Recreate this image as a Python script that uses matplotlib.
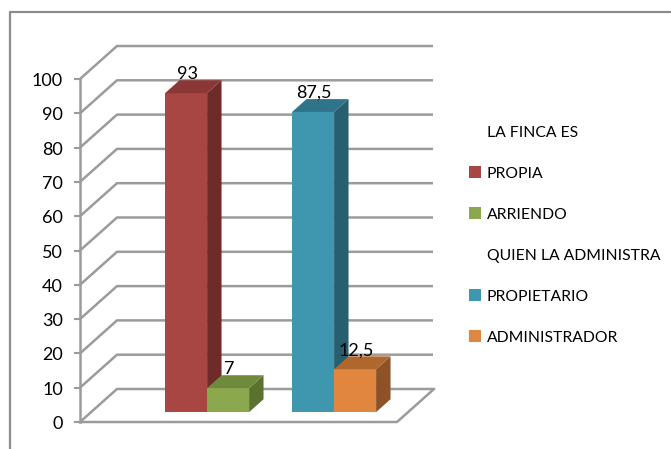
import matplotlib.pyplot as plt
from matplotlib.patches import Polygon, Rectangle

plt.rcParams['font.family'] = ['Lato', 'DejaVu Sans']

# datos
series = ['PROPIA', 'ARRIENDO', 'PROPIETARIO', 'ADMINISTRADOR']
values = [93, 7, 87.5, 12.5]
value_labels = ['93', '7', '87,5', '12,5']
group_of = [0, 0, 1, 1]
headers = ['LA FINCA ES', 'QUIEN LA ADMINISTRA']
y_ticks = list(range(0, 101, 10))

# colores: frente, techo, lado
front_colors = ['#a84644', '#8ba84e', '#3f97af', '#e0863e']
top_colors = ['#8a3735', '#6f8a3d', '#2f7488', '#b0672d']
side_colors = ['#6e2b2a', '#5a712f', '#275f6f', '#8d5226']
grid_color = '#9b9b9b'

# geometria de la vista 3d (pixeles)
X0, Y0 = 80, 422          # origen del eje frontal
SCALE = 3.43              # pixeles por unidad
WALL_DX, WALL_DY = 37, 33 # profundidad de la caja
FLOOR_W = 317
WALL_W = 316
D_FRONT, D_BACK = 0.30, 0.69
GROUP_X0, GROUP_STEP, BAR_W = 74, 127, 42


def pt(x, v, d):
    return (X0 + x + d * WALL_DX, Y0 - v * SCALE - d * WALL_DY)


fig = plt.figure(figsize=(6.71, 4.49), dpi=100)
ax = fig.add_axes([0, 0, 1, 1])
ax.set_xlim(0, 671)
ax.set_ylim(449, 0)
ax.axis('off')

# marco del grafico
ax.plot([10, 10, 671], [449, 12, 12], color='#8c8c8c', lw=1.6)

# pared del fondo y diagonales
for v in y_ticks:
    a = pt(0, v, 0)
    b = pt(0, v, 1)
    c = (b[0] + WALL_W, b[1])
    ax.plot([a[0], b[0], c[0]], [a[1], b[1], c[1]], color=grid_color, lw=1.8,
            solid_capstyle='butt', zorder=1)

# piso
f0 = pt(0, 0, 0)
f1 = pt(FLOOR_W, 0, 0)
f2 = pt(FLOOR_W, 0, 1)
ax.plot([f0[0], f1[0], f2[0]], [f0[1], f1[1], f2[1]], color=grid_color, lw=1.8, zorder=1)

# eje vertical
top = pt(0, y_ticks[-1], 0)
ax.plot([X0, X0], [Y0, top[1]], color=grid_color, lw=1.8, zorder=1)
for v in y_ticks:
    x, y = pt(0, v, 0)
    ax.plot([x - 5, x], [y, y], color=grid_color, lw=1.5, zorder=1)
    ax.text(x - 17, y + 2, str(v), ha='right', va='center', fontsize=13, color='black')

# barras
for i, v in enumerate(values):
    g = group_of[i]
    k = i - 2 * g
    xl = GROUP_X0 + g * GROUP_STEP + k * BAR_W
    xr = xl + BAR_W
    fl_b, fr_b = pt(xl, 0, D_FRONT), pt(xr, 0, D_FRONT)
    fl_t, fr_t = pt(xl, v, D_FRONT), pt(xr, v, D_FRONT)
    bl_t, br_t = pt(xl, v, D_BACK), pt(xr, v, D_BACK)
    br_b = pt(xr, 0, D_BACK)
    z = 3 + i
    ax.add_patch(Polygon([fl_b, fr_b, fr_t, fl_t], closed=True, fc=front_colors[i], ec='none', zorder=z))
    ax.add_patch(Polygon([fr_b, br_b, br_t, fr_t], closed=True, fc=side_colors[i], ec='none', zorder=z))
    ax.add_patch(Polygon([fl_t, fr_t, br_t, bl_t], closed=True, fc=top_colors[i], ec='none', zorder=z))
    cx = (fl_t[0] + fr_t[0]) / 2 + 1
    ax.text(cx, bl_t[1] - 1, value_labels[i], ha='center', va='baseline',
            fontsize=13, color='black', zorder=10)

# leyenda
entries = [(headers[0], None), (series[0], 0), (series[1], 1),
           (headers[1], None), (series[2], 2), (series[3], 3)]
for j, (label, ci) in enumerate(entries):
    y = 133 + j * 41
    if ci is not None:
        ax.add_patch(Rectangle((469, y - 8), 12, 12, fc=front_colors[ci], ec='none'))
    ax.text(487, y, label, ha='left', va='center', fontsize=11.3, color='black')

fig.savefig('out.png', dpi=100)
